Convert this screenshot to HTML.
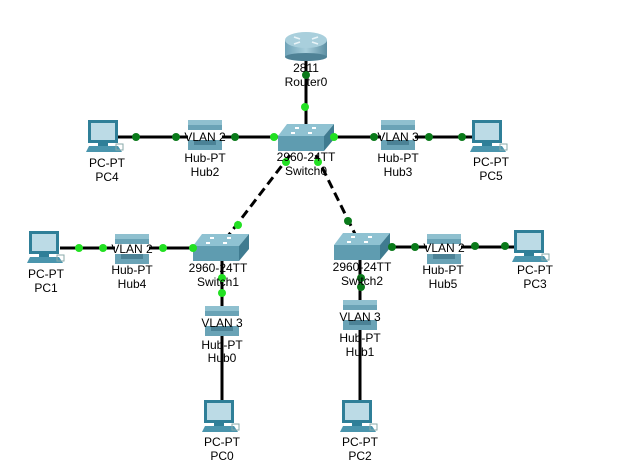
<!DOCTYPE html>
<html><head><meta charset="utf-8"><style>
html,body{margin:0;padding:0;background:#fff;}
svg{display:block}
text{font-family:"Liberation Sans","DejaVu Sans",sans-serif;font-size:12px;fill:#000;text-anchor:middle}
</style></head><body>
<svg width="640" height="476" viewBox="0 0 640 476" xmlns="http://www.w3.org/2000/svg">
<defs>
<linearGradient id="cyl" x1="0" x2="1" y1="0" y2="0"><stop offset="0" stop-color="#6fa3b8"/><stop offset=".5" stop-color="#a9cfdc"/><stop offset="1" stop-color="#5d8fa3"/></linearGradient>
<g id="pc">
<rect x="2" y="0" width="30" height="23" fill="#2f7f98"/>
<rect x="5" y="3" width="24" height="17" fill="#bcdbe6"/>
<rect x="12" y="23" width="10" height="3" fill="#2f7f98"/>
<polygon points="3,26 32,26 36,32 0,32" fill="#4a95ad"/>
<rect x="30" y="24" width="7" height="6" fill="none" stroke="#8aa" stroke-width="1"/>
</g>
<g id="hub">
<rect x="0" y="0" width="34" height="30" fill="#6aa3b6"/>
<rect x="0" y="0" width="34" height="5" fill="#8fc0cf"/>
<rect x="6" y="20" width="22" height="5" fill="#4b8296"/>
<rect x="0" y="10" width="34" height="10" fill="#fff"/>
</g>
<g id="sw">
<polygon points="9,0 56,0 46,12 0,12" fill="#8fc2d2"/>
<polygon points="0,12 46,12 46,27 0,27" fill="#5f9cb0"/>
<polygon points="46,12 56,0 56,15 46,27" fill="#3f7b90"/>
<rect x="17" y="3" width="4" height="2" fill="#fff"/><rect x="34" y="3" width="4" height="2" fill="#fff"/>
<rect x="13" y="8" width="4" height="2" fill="#fff"/><rect x="30" y="8" width="4" height="2" fill="#fff"/>
</g>
</defs>

<g stroke="#000" stroke-width="3" fill="none">
<line x1="306" y1="58" x2="306" y2="126"/>
<line x1="118" y1="137" x2="280" y2="137"/>
<line x1="334" y1="137" x2="472" y2="137"/>
<line x1="60" y1="248" x2="198" y2="248"/>
<line x1="380" y1="247" x2="515" y2="247"/>
<line x1="222" y1="258" x2="222" y2="402"/>
<line x1="360" y1="258" x2="360" y2="402"/>
<line x1="290" y1="155" x2="228" y2="236" stroke-dasharray="9,5"/>
<line x1="316" y1="155" x2="356" y2="236" stroke-dasharray="9,5"/>
</g>

<g>
<rect x="285" y="40" width="42" height="17" fill="url(#cyl)"/>
<ellipse cx="306" cy="57" rx="21" ry="4" fill="#4f8296"/>
<ellipse cx="306" cy="40" rx="21" ry="8" fill="#a9cfdc"/>
<g stroke="#e8f4f8" stroke-width="1.5"><line x1="294" y1="37" x2="300" y2="39"/><line x1="318" y1="37" x2="312" y2="39"/><line x1="294" y1="44" x2="300" y2="42"/><line x1="318" y1="44" x2="312" y2="42"/></g>
</g>
<use href="#sw" x="278" y="124"/>
<use href="#sw" x="193" y="234"/>
<use href="#sw" x="334" y="233"/>
<use href="#pc" x="86" y="120"/>
<use href="#pc" x="470" y="120"/>
<use href="#pc" x="27" y="231"/>
<use href="#pc" x="512" y="230"/>
<use href="#pc" x="202" y="400"/>
<use href="#pc" x="340" y="400"/>
<use href="#hub" x="188" y="120"/>
<use href="#hub" x="381" y="120"/>
<use href="#hub" x="115" y="234"/>
<use href="#hub" x="427" y="234"/>
<use href="#hub" x="205" y="306"/>
<use href="#hub" x="343" y="300"/>

<text x="205" y="141">VLAN 2</text>
<text x="398" y="141">VLAN 3</text>
<text x="132" y="253">VLAN 2</text>
<text x="444" y="252">VLAN 2</text>
<text x="222" y="327">VLAN 3</text>
<text x="360" y="321">VLAN 3</text>

<g fill="#0a7a1a">
<circle cx="306" cy="75" r="4"/>
<circle cx="136" cy="137" r="4"/><circle cx="176" cy="137" r="4"/><circle cx="235" cy="137" r="4"/>
<circle cx="374" cy="137" r="4"/><circle cx="429" cy="137" r="4"/><circle cx="462" cy="137" r="4"/>
<circle cx="348" cy="221" r="4"/>
<circle cx="392" cy="247" r="4"/><circle cx="415" cy="247" r="4"/><circle cx="475" cy="246" r="4"/><circle cx="505" cy="246" r="4"/>
<circle cx="361" cy="278" r="4"/><circle cx="361" cy="287" r="4"/>
</g>
<g fill="#22e022">
<circle cx="305" cy="107" r="4"/>
<circle cx="274" cy="137" r="4"/><circle cx="334" cy="137" r="4"/>
<circle cx="286" cy="162" r="4"/><circle cx="318" cy="162" r="4"/><circle cx="238" cy="225" r="4"/>
<circle cx="79" cy="248" r="4"/><circle cx="103" cy="248" r="4"/><circle cx="163" cy="248" r="4"/><circle cx="193" cy="248" r="4"/>
<circle cx="222" cy="278" r="4"/><circle cx="222" cy="293" r="4"/>
</g>

<text x="306" y="72">2811</text><text x="306" y="86">Router0</text>
<text x="306" y="161">2960-24TT</text><text x="306" y="175">Switch0</text>
<text x="205" y="162">Hub-PT</text><text x="205" y="176">Hub2</text>
<text x="107" y="167">PC-PT</text><text x="107" y="181">PC4</text>
<text x="398" y="162">Hub-PT</text><text x="398" y="176">Hub3</text>
<text x="491" y="166">PC-PT</text><text x="491" y="180">PC5</text>
<text x="46" y="278">PC-PT</text><text x="46" y="292">PC1</text>
<text x="132" y="274">Hub-PT</text><text x="132" y="288">Hub4</text>
<text x="218" y="272">2960-24TT</text><text x="218" y="286">Switch1</text>
<text x="362" y="271">2960-24TT</text><text x="362" y="285">Switch2</text>
<text x="443" y="274">Hub-PT</text><text x="443" y="288">Hub5</text>
<text x="535" y="274">PC-PT</text><text x="535" y="288">PC3</text>
<text x="222" y="349">Hub-PT</text><text x="222" y="362">Hub0</text>
<text x="360" y="342">Hub-PT</text><text x="360" y="356">Hub1</text>
<text x="222" y="446">PC-PT</text><text x="222" y="460">PC0</text>
<text x="360" y="446">PC-PT</text><text x="360" y="460">PC2</text>
</svg>
</body></html>
